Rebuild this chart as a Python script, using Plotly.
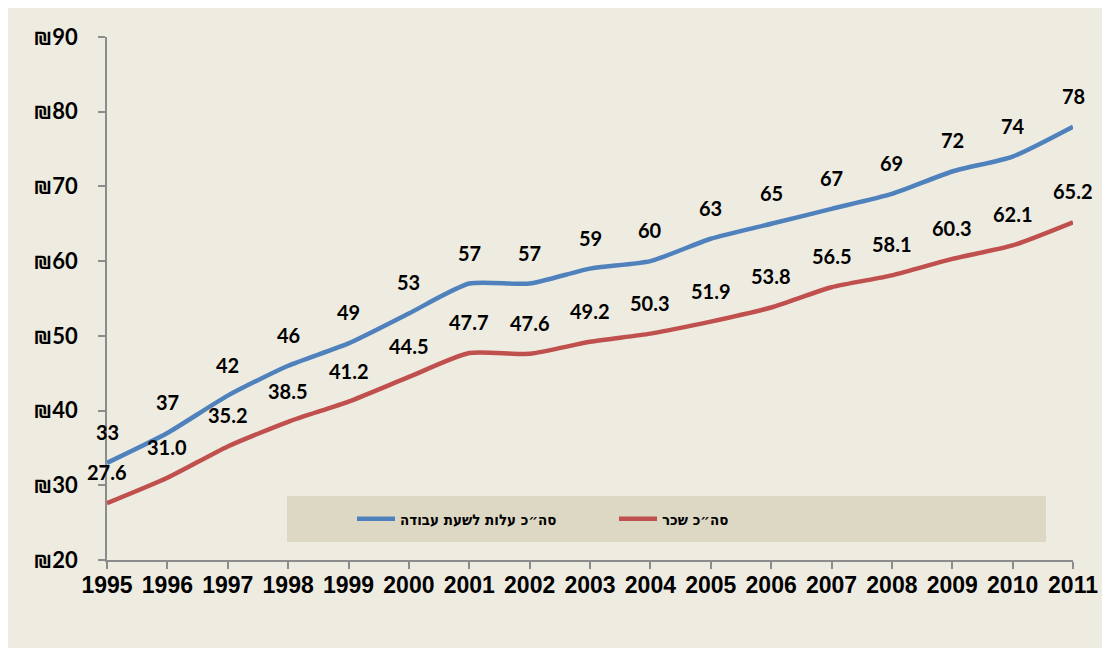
import plotly.graph_objects as go

years = list(range(1995, 2012))
labor_cost = [33, 37, 42, 46, 49, 53, 57, 57, 59, 60, 63, 65, 67, 69, 72, 74, 78]
wages = [27.6, 31.0, 35.2, 38.5, 41.2, 44.5, 47.7, 47.6, 49.2, 50.3, 51.9, 53.8, 56.5, 58.1, 60.3, 62.1, 65.2]
labor_labels = [str(v) for v in labor_cost]
wage_labels = [f"{v:.1f}" for v in wages]
y_ticks = [20, 30, 40, 50, 60, 70, 80, 90]
y_ticktext = [f"₪{v}" for v in y_ticks]

name_cost = "סה״כ עלות לשעת עבודה"
name_wage = "סה״כ שכר"

BLUE = "#4F81BD"
RED = "#C0504D"
BG = "#EEEBE1"

fig = go.Figure()
fig.add_trace(go.Scatter(x=years, y=labor_cost, mode="lines", name=name_cost,
                         line=dict(color=BLUE, width=4.5, shape="spline", smoothing=0.6)))
fig.add_trace(go.Scatter(x=years, y=wages, mode="lines", name=name_wage,
                         line=dict(color=RED, width=4.5, shape="spline", smoothing=0.6)))

label_font = dict(family="Lato, DejaVu Sans", size=20, color="#000000")
for x, y, t in zip(years, labor_cost, labor_labels):
    fig.add_annotation(x=x, y=y, text=f"<b>{t}</b>", showarrow=False, yshift=31,
                       font=label_font, xanchor="center", yanchor="middle")
for x, y, t in zip(years, wages, wage_labels):
    fig.add_annotation(x=x, y=y, text=f"<b>{t}</b>", showarrow=False, yshift=31,
                       font=label_font, xanchor="center", yanchor="middle")

OFF = 8  # page body margin
W, H = 1110 - OFF, 648 - OFF
ml = 107 - OFF
mt = 37 - OFF
mr = W - (1073 - OFF)
mb = H - (560 - OFF)
pw, ph = W - ml - mr, H - mt - mb

def px_x(p):
    return (p - OFF - ml) / pw

def px_y(p):
    return (H - mb - (p - OFF)) / ph

# legend box
fig.add_shape(type="rect", xref="paper", yref="paper",
              x0=px_x(287), x1=px_x(1046), y0=px_y(542), y1=px_y(496),
              fillcolor="#DDD8C3", line=dict(width=0), layer="below")

fig.update_layout(
    width=W, height=H,
    margin=dict(l=ml, r=mr, t=mt, b=mb),
    paper_bgcolor=BG,
    plot_bgcolor="rgba(0,0,0,0)",
    showlegend=True,
    legend=dict(orientation="h", x=px_x(352), y=px_y(519), xanchor="left", yanchor="middle",
                bgcolor="rgba(0,0,0,0)", entrywidth=209, entrywidthmode="pixels",
                font=dict(family="DejaVu Sans Condensed, DejaVu Sans", size=15,
                          color="#000000", weight="bold"),
                traceorder="normal", itemwidth=38),
    xaxis=dict(range=[1995, 2011], tickmode="array", tickvals=years,
               ticktext=[f"<b>{y}</b>" for y in years],
               showgrid=False, zeroline=False, showline=True, linecolor="#8C8C8C", linewidth=1.5,
               ticks="outside", ticklen=7, tickcolor="#8C8C8C", tickwidth=1.5,
               ticklabelstandoff=-3,
               tickfont=dict(family="Liberation Sans, Arial", size=23, color="#000000")),
    yaxis=dict(range=[20, 90], tickmode="array", tickvals=y_ticks,
               ticktext=[f"<b>{t}</b>" for t in y_ticktext],
               showgrid=False, zeroline=False, showline=True, linecolor="#8C8C8C", linewidth=1.5,
               ticks="outside", ticklen=7, tickcolor="#8C8C8C", tickwidth=1.5,
               ticklabelstandoff=16,
               tickfont=dict(family="Lato, DejaVu Sans", size=22, color="#000000")),
)

fig.write_html("out.html")
